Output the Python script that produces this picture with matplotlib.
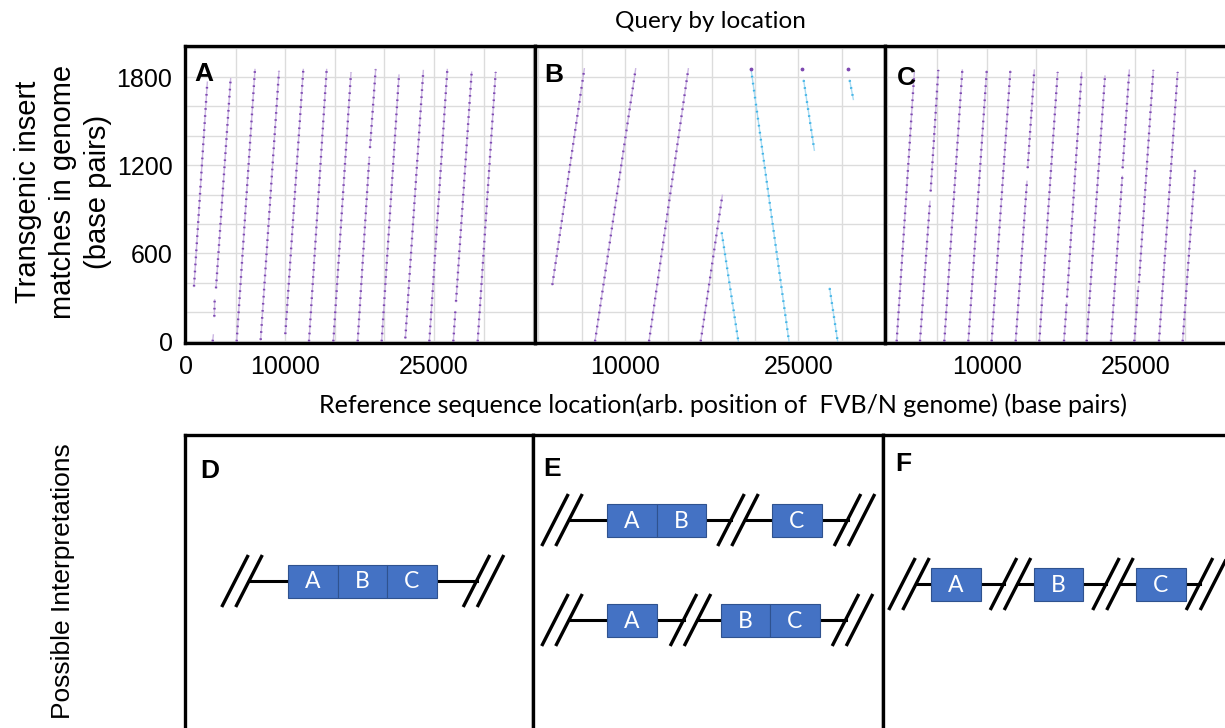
import matplotlib
matplotlib.use("Agg")
import matplotlib.pyplot as plt
from matplotlib.patches import Rectangle

plt.rcParams['font.family'] = ['Liberation Sans', 'DejaVu Sans']

# dot-plot match segments: (x_start, x_end, y_start, y_end)
a_fwd = [
    (806, 2150, 374, 1766), (3024, 4502, 362, 1789), (2856, 2889, 169, 282),
    (2688, 2755, 0, 44), (5107, 6955, 0, 1852), (7526, 9374, 10, 1841),
    (10013, 11827, 50, 1852), (12398, 14179, 0, 1852), (14851, 16632, 0, 1830),
    (17304, 18480, 0, 1256), (18547, 19118, 1318, 1852), (19723, 21470, 0, 1814),
    (22109, 23923, 21, 1845), (24528, 26342, 0, 1852), (26947, 27149, 0, 203),
    (27216, 28795, 271, 1834), (29400, 31214, 0, 1834),
]
b_fwd = [
    (3709, 6479, 385, 1857), (7403, 10924, 0, 1857),
    (12078, 15484, 0, 1857), (16552, 18427, 0, 995),
]
b_rev = [
    (20909, 24199, 1857, 0), (18370, 19813, 742, 0), (25470, 26393, 1779, 1302),
    (29452, 29770, 1779, 1648), (27720, 28412, 362, 0),
]
b_dot_x = [20909, 25296, 29337]
b_dot_y = [1857, 1852, 1852]
c_fwd = [
    (924, 2705, 0, 1830), (3276, 4284, 0, 954), (4351, 5124, 1022, 1848),
    (5729, 7543, 0, 1848), (8148, 10000, 0, 1841), (10500, 12382, 0, 1841),
    (12919, 14062, 0, 1090), (14129, 14801, 1181, 1848), (15305, 17153, 0, 1834),
    (17791, 18060, 0, 260), (18100, 19572, 300, 1830), (20076, 21924, 0, 1807),
    (22529, 23671, 0, 1124), (23700, 24377, 1180, 1848), (24881, 25284, 0, 373),
    (25350, 26796, 400, 1848), (27367, 29249, 0, 1834), (29753, 30996, 0, 1165),
]

y_ticks = [0, 600, 1200, 1800]
a_xticks = [0, 10000, 25000]
bc_xticks = [10000, 25000]

# possible arrangements of the insert pieces (runs of adjacent boxes)
d_rows = [["ABC"]]
e_rows = [["AB", "C"], ["A", "BC"]]
f_rows = [["A", "B", "C"]]

PURPLE = "#7d48b0"
PURPLE_LINE = "#cbb6e2"
BLUE = "#3fb3e6"
BLUE_LINE = "#a9dcf3"
BOX = "#4472C4"

W, H = 1225, 728
fig = plt.figure(figsize=(W / 100, H / 100), dpi=100)


def px_axes(left, top, width, height):
    return fig.add_axes([left / W, (H - top - height) / H, width / W, height / H])


def draw_segs(ax, segs, dot_color, line_color):
    for x0, x1, y0, y1 in segs:
        ax.plot([x0, x1], [y0, y1], color=line_color, lw=1.0, zorder=2)
        ax.plot([x0, x1], [y0, y1], color=dot_color, lw=1.7,
                linestyle=(0, (0.7, 2.3)), zorder=3)


top_axes = []
for left, xlim, grid_start, grid_step in [(185, (-100, 35180), 0, 5000),
                                          (535, (2208, 32511), 2500, 3750),
                                          (885, (-250, 35030), 0, 5000)]:
    ax = px_axes(left, 46, 350, 297)
    grid = [grid_start + grid_step * i for i in range(9)]
    ax.set_xticks(grid, minor=True)
    ax.set_yticks(range(0, 2001, 200), minor=True)
    ax.tick_params(which='both', length=0, labelsize=18, pad=9)
    for s in ax.spines.values():
        s.set_linewidth(2.4)
    ax._lims = xlim
    top_axes.append(ax)

ax_a, ax_b, ax_c = top_axes
ax_a.set_yticks(y_ticks)
ax_a.set_xticks(a_xticks)
for ax in (ax_b, ax_c):
    ax.set_yticks(y_ticks)
    ax.set_yticklabels([])
    ax.set_xticks(bc_xticks)
for ax in top_axes:
    ax.set_xlim(*ax._lims)
    ax.set_ylim(-11, 2012)
    ax.grid(which='both', color='#dcdcdc', lw=1.0, zorder=0)
    ax.set_axisbelow(True)

draw_segs(ax_a, a_fwd, PURPLE, PURPLE_LINE)
draw_segs(ax_b, b_fwd, PURPLE, PURPLE_LINE)
draw_segs(ax_b, b_rev, BLUE, BLUE_LINE)
ax_b.scatter(b_dot_x, b_dot_y, s=3, color=PURPLE, zorder=4)
draw_segs(ax_c, c_fwd, PURPLE, PURPLE_LINE)

for ax, lab, x, y in [(ax_a, "A", 0.028, 0.905), (ax_b, "B", 0.025, 0.903),
                      (ax_c, "C", 0.035, 0.893)]:
    ax.text(x, y, lab, transform=ax.transAxes, fontsize=19, fontweight='bold',
            va='center', ha='left', zorder=5)

# bottom frames
for left, width in [(185, 348), (533, 350), (883, 350)]:
    ax = px_axes(left, 435, width, 330)
    ax.set_xticks([])
    ax.set_yticks([])
    for s in ax.spines.values():
        s.set_linewidth(2.4)

# overlay in pixel units for the schematic diagrams
ov = fig.add_axes([0, 0, 1, 1], zorder=10)
ov.set_xlim(0, W)
ov.set_ylim(H, 0)
ov.axis('off')
ov.patch.set_alpha(0)

BW, BH, SL = 49.5, 33, 14


def brk(x, y):
    for dx in (0, SL):
        ov.plot([x + dx - 13.3, x + dx + 13.3], [y + 26, y - 26], color='black',
                lw=2.4, solid_capstyle='butt')


def chain(x, y, groups, lead, gap, tail):
    brk(x, y)
    pos = x + SL
    ov.plot([pos, pos + lead], [y, y], color='black', lw=2.2)
    pos += lead
    for i, grp in enumerate(groups):
        for letter in grp:
            ov.add_patch(Rectangle((pos, y - BH / 2), BW, BH, facecolor=BOX,
                                   edgecolor='#2F528F', lw=0.8, zorder=3))
            ov.text(pos + BW / 2, y + 1, letter, color='white', fontsize=16.5,
                    family=['Lato', 'DejaVu Sans'], ha='center', va='center', zorder=4)
            pos += BW
        if i < len(groups) - 1:
            ov.plot([pos, pos + gap[0]], [y, y], color='black', lw=2.2)
            pos += gap[0]
            brk(pos, y)
            pos += SL
            ov.plot([pos, pos + gap[1]], [y, y], color='black', lw=2.2)
            pos += gap[1]
    ov.plot([pos, pos + tail], [y, y], color='black', lw=2.2)
    brk(pos + tail, y)


chain(235, 581, d_rows[0], 39, None, 40)
chain(555, 520, e_rows[0], 38, (25, 27), 26)
chain(555, 620, e_rows[1], 38, (27, 23), 26)
chain(902, 584, f_rows[0], 15, (23, 16), 14)

for lab, x, y in [("D", 200, 471), ("E", 543, 469), ("F", 895, 464)]:
    ov.text(x, y, lab, fontsize=19, fontweight='bold', ha='left', va='center')

fig.text(710 / W, 1 - 22 / H, "Query by location", fontsize=17.5,
         family=['Lato', 'DejaVu Sans'], ha='center', va='center')
fig.text(723 / W, 1 - 405 / H,
         "Reference sequence location(arb. position of  FVB/N genome) (base pairs)",
         fontsize=18, family=['Lato', 'DejaVu Sans'], ha='center', va='center')
fig.text(63 / W, 1 - 192 / H, "Transgenic insert\nmatches in genome\n(base pairs)",
         fontsize=21, rotation=90, ha='center', va='center', multialignment='center',
         linespacing=1.3)
fig.text(63 / W, 1 - 581 / H, "Possible Interpretations", fontsize=19,
         rotation=90, ha='center', va='center')

fig.savefig("out.png", dpi=100)
